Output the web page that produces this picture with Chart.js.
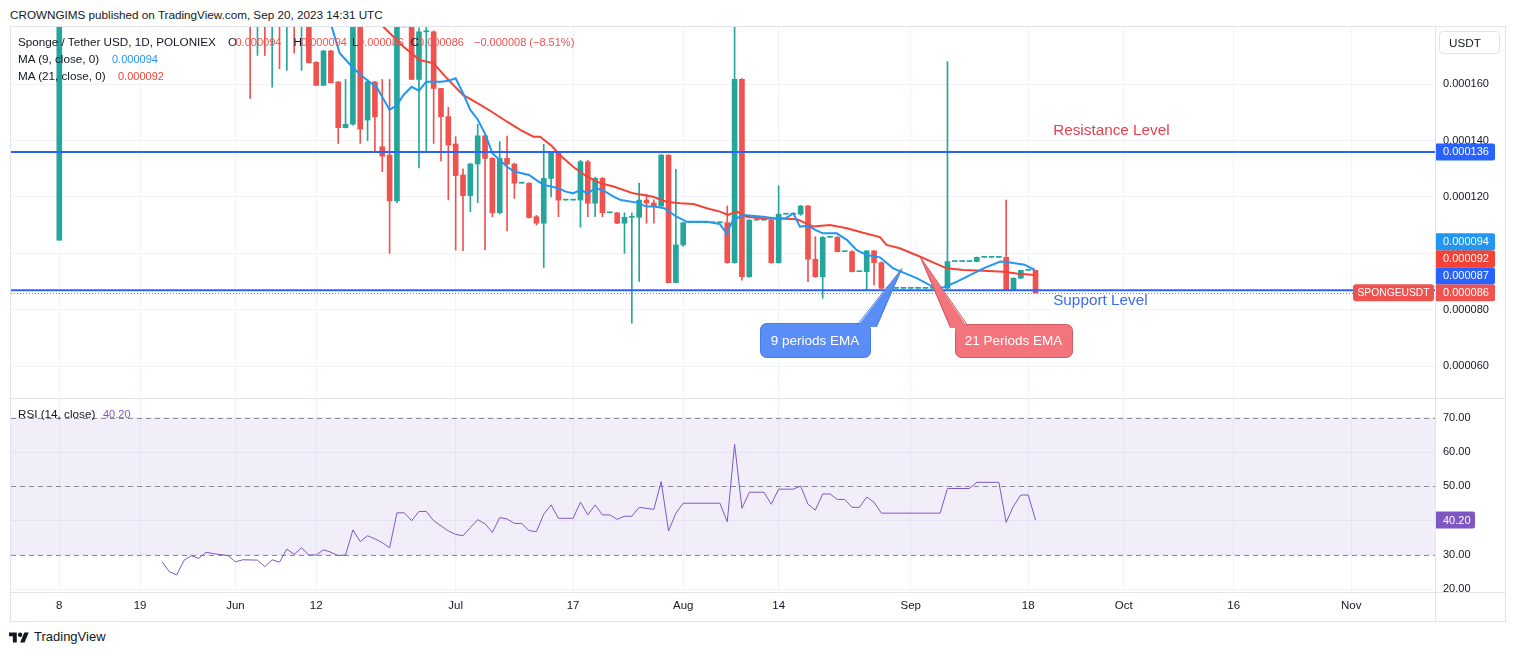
<!DOCTYPE html>
<html>
<head>
<meta charset="utf-8">
<title>Sponge / Tether USD, 1D, POLONIEX</title>
<script src="https://cdn.jsdelivr.net/npm/chart.js@4.4.1/dist/chart.umd.min.js"></script>
<style>
  html,body{margin:0;padding:0;background:#fff;}
  body{width:1515px;height:655px;position:relative;overflow:hidden;font-family:"Liberation Sans",Arial,sans-serif;color:#131722;}
  .t{position:absolute;white-space:nowrap;line-height:14px;font-size:11.7px;}
  .v{font-size:11px;}
  .ln{position:absolute;background:#e0e3eb;}
  canvas{position:absolute;}
  .red{color:#ef5350;}
</style>
</head>
<body>
<div class="t" style="left:10px;top:8px;">CROWNGIMS published on TradingView.com, Sep 20, 2023 14:31 UTC</div>
<div style="position:absolute;left:10px;top:26px;width:1496px;height:596px;border:1px solid #e0e3eb;box-sizing:border-box;"></div>
<canvas id="cPrice" width="1494" height="371" style="left:11px;top:27px;width:1494px;height:371px;"></canvas>
<canvas id="cRsi" width="1494" height="222" style="left:11px;top:399px;width:1494px;height:222px;"></canvas>
<div class="ln" style="left:11px;top:398px;width:1494px;height:1px;"></div>
<div class="ln" style="left:11px;top:592px;width:1494px;height:1px;"></div>
<div class="ln" style="left:1435px;top:27px;width:1px;height:594px;"></div>

<!-- legend -->
<div class="t" style="left:18px;top:35px;">Sponge / Tether USD, 1D, POLONIEX</div>
<div class="t" style="left:228px;top:35px;">O</div><div class="t v red" id="lgO" style="left:235.5px;top:35px;"></div>
<div class="t" style="left:293.5px;top:35px;">H</div><div class="t v red" id="lgH" style="left:301px;top:35px;"></div>
<div class="t" style="left:352px;top:35px;">L</div><div class="t v red" id="lgL" style="left:358px;top:35px;"></div>
<div class="t" style="left:410.5px;top:35px;">C</div><div class="t v red" id="lgC" style="left:418px;top:35px;"></div>
<div class="t v red" id="lgChg" style="left:474px;top:35px;"></div>
<div class="t" style="left:18px;top:52px;">MA (9, close, 0)</div><div class="t v" id="lgMa9" style="left:112px;top:52px;color:#2196f3;"></div>
<div class="t" style="left:18px;top:69px;">MA (21, close, 0)</div><div class="t v" id="lgMa21" style="left:118px;top:69px;color:#f44336;"></div>
<div class="t" style="left:18px;top:407px;">RSI (14, close)</div><div class="t v" id="lgRsi" style="left:103px;top:407px;color:#7e57c2;"></div>

<div style="position:absolute;left:1439px;top:31px;width:61px;height:23px;border:1px solid #e0e3eb;border-radius:4px;box-sizing:border-box;font-size:11.7px;line-height:21px;padding-left:9px;">USDT</div>

<svg style="position:absolute;left:9px;top:630px;" width="20" height="16" viewBox="0 0 36 28"><path d="M14 22H7V11H0V4h14v18zM28 22h-8l7.5-18h8L28 22z" fill="#131722"/><circle cx="20" cy="8" r="4" fill="#131722"/></svg>
<div class="t" style="left:34px;top:630px;font-size:13px;">TradingView</div>

<script>
// ---------- data (prices in micro-USDT, i.e. x 0.000001) ----------
const UNIT = 1e-6;
// bar index: 0 = May 8, one bar per trading day
const candleIndex = [0,26,27,28,29,30,31,32,33,34,35,36,37,38,39,40,41,42,43,44,45,46,47,48,49,50,51,52,53,54,55,56,57,58,59,60,61,62,63,64,65,66,67,68,69,70,71,72,73,74,75,76,77,78,79,80,81,82,83,84,85,86,87,88,89,90,91,92,93,94,95,96,97,98,99,100,101,102,103,104,105,106,107,108,109,110,111,112,113,114,115,116,117,118,119,120,121,122,123,124,125,126,127,128,129,130,131,132,133];
const openP = [104.7,
  200,190,195,188,192,186,190,184,
  188,167.8,159.6,171.8,160.8,144.6,145.8,190,147.3,160.8,
  137.8,134.9,118.6,190,190,161.7,178.6,178.6,158.5,148.5,
  138.8,127.8,120.5,131.7,141.7,133.7,114.4,133.7,131.7,124.9,
  124.9,113,110.7,126.6,135.7,118.9,118.9,118.9,132.5,117.8,
  126.6,114.4,114.4,110.7,112.8,112.8,118.9,117.9,116.8,134.9,
  89.6,103,110.9,110.9,110.9,110.9,110.9,110.9,96.7,161.7,
  91.7,111.8,111.8,111.8,96.7,113.9,113.9,113.9,116.8,97.9,
  91.7,105.7,105.7,100.6,100.6,93.5,93.5,100.9,96.7,87.6,
  87.6,87.6,87.6,87.6,87.6,87.6,87.6,87.6,97.1,97.1,
  97.1,97.1,98.6,98.6,98.6,98.6,87,91.2,94,94];
const highP = [200,
  205,200,198,196,195,194,193,192,
  190,168,172,172,161,161.7,195,192,161.7,161,
  161.7,161.7,195,190,192,180,182,179,158.5,151.8,
  141.4,130,132,145.8,142,134,139.6,141.6,132,124.9,
  125,113.5,138.7,136,136,118.9,118.9,133,133,127,
  127,114.4,114.5,114.4,114.4,124.9,121,119,135,135,
  129.8,111,110.9,110.9,110.9,110.9,110.9,116.8,195,162,
  112,111.8,111.8,112,124,113.9,113.9,117,117,105.9,
  106,105.7,106,100.6,101,93.5,101,101,97,87.6,
  87.6,87.6,87.6,87.6,87.6,87.6,87.6,168,97.1,97.1,
  97.1,98.7,98.6,98.6,98.6,118.9,91.3,94,94,94];
const lowP = [104.7,
  155,170.2,170.2,159,165.5,164.9,171,164.9,
  167.6,159.6,159.5,160.5,139,144.5,145.5,139,140,136.1,
  129,100,118,190,161.7,130.3,135.7,139,132.8,119,
  101.2,101,114.8,118,101.2,113,114,108,119.5,124.9,
  112.5,110,95,120,113,118.9,118.9,109.3,113,113,
  113,114.4,110.5,100,75.2,90,110.7,110.7,116.5,89.5,
  89.5,102.5,110.9,110.9,110.9,110.9,110.9,96.5,96.5,90.5,
  91.5,111.8,111.8,96.5,96.5,113.9,113.9,113.5,90,91.5,
  84.1,105.7,100.5,100.6,93.4,93.5,87,88.8,87.5,87.6,
  87.6,87.6,87.6,87.6,87.6,87.6,87.6,87.5,97.1,97.1,
  97.1,97,98.6,98.6,98.6,86.9,86.9,91,94,86];
const closeP = [195,
  190,195,188,192,186,190,184,188,
  167.6,159.6,171.8,160.5,144.6,145.8,190,144.1,160.8,148.4,
  134.5,118.6,190,190,161.7,178.6,178.6,158.5,148.5,138.4,
  127.6,120.5,131.7,141.7,133.7,114.4,133.7,131.7,124.9,124.9,
  112.7,110.7,126.6,135.7,118.9,118.9,118.9,132.5,117.8,126.6,
  114.4,114.4,110.7,112.8,112.8,118.9,117.8,116.7,134.9,89.6,
  103,110.9,110.9,110.9,110.9,110.9,110.9,96.7,161.7,91.7,
  111.8,111.8,111.8,96.7,113.9,113.9,113.9,116.8,97.9,91.7,
  105.7,105.7,100.6,100.6,93.5,93.5,100.9,96.7,87.6,87.6,
  87.6,87.6,87.6,87.6,87.6,87.6,87.6,97.1,97.1,97.1,
  97.1,98.6,98.6,98.6,98.6,87,91.2,94,94,86];

// Moving average (9)
const ma9Index = [37.1,38.2,40.1,41.9,43.2,45,46,46.9,48,49,50,52,53,54,55,56,57,58,59,60,61,62,63,64,65,66,67,68,69,70,71,72,73,74,75.5,76.5,78.7,80,81.1,82.4,84.1,85.5,88.2,90,90.9,91.8,93.2,95.9,98,99,100,100.9,102,103,104,105.9,107.3,108.6,110,111.8,113.6,116.8,119.3,120.5,122.3,125.9,128.2,129.5,131.5,132.9];
const ma9Value = [180.5,171,165.6,161.5,159.1,150.9,152.6,156.2,159.1,157.7,160.9,160.9,161.2,162.1,156.8,150.9,147.5,142.5,135.5,133.1,130.7,129,128.4,127.8,126,124.3,123.7,123.1,121.9,121.3,122.5,121.3,123.1,122.5,120.1,118.9,118,116.6,116.6,116,113,111.2,111.2,110.4,107.1,111.8,113.6,113,112.2,112.5,114.2,109.5,109.8,108.3,107.1,107.1,104.8,101.2,99.4,98.6,94.7,91.2,87.8,88,90,94.7,97.1,96.8,96,94.1];
// Moving average (21)
const ma21Index = [44.1,46.9,49.1,51,52.8,55,56.9,58.7,61,62.8,64.6,65.5,67.1,68.2,70,71.9,73.7,75.5,78.2,80.9,82.7,84.6,86.4,88.2,90,91.1,92.3,93.6,95.9,98.2,100.5,102.7,105,107.3,109.5,111.8,112.7,114.5,117.3,118.8,120.9,123.2,125.9,128.6,130.4,132.9];
const ma21Value = [180.5,173.3,168.6,167.4,162.1,156.2,153.4,150.6,146.7,143.8,141.4,141.4,138.1,134.9,130.7,127.2,124.9,123.7,121.3,120.1,118.3,117.8,117.5,116,114.8,113.6,114.8,113,112.4,112.4,112.1,109.5,110.1,108.9,107.3,105.8,103,101.8,98.8,97.1,94.7,94.1,93.8,93.5,92.9,92.3];

// RSI (14, close)
const rsiIndex = [14,15,16,17,18,19,20,21,23,24,25,27,28,29,30,31,32,33,34,35,36,37,38,39,40,41,42,43,44,45,46,47,48,49,50,51,52,53,54,55,56,57,58,59,60,61,62,63,64,65,66,67,68,69,70,71,72,73,74,75,76,77,78,79,80,81,82,83,84,85,90,91,92,93,94,96,97,98,100,101,102,103,104,105,106,107,108,109,110,111,112,120,121,124,125,128,129,130,131,132,133];
const rsiValue = [28.0,25.1,24.2,28.5,29.8,29.0,30.8,30.4,29.8,28.0,28.6,
  28.5,26.6,28.6,27.9,31.7,30.2,32.1,30.0,30.0,31.5,
  30.8,29.8,30.0,37.3,33.9,35.6,34.7,33.6,32.1,42.3,
  42.3,40.0,42.7,42.7,40.0,38.5,37.0,36.0,35.6,38.0,
  40.3,39.1,36.6,40.9,40.5,39.2,39.2,37.1,36.8,41.9,
  44.6,40.7,40.7,40.7,45.4,41.7,44.6,41.7,41.7,40.4,
  41.3,41.3,43.9,43.6,43.3,51.4,37.0,42.2,45.1,
  45.1,39.7,62.3,43.6,48.3,
  48.3,44.8,49.2,
  49.2,50.1,44.8,43.1,47.8,47.8,46.2,46.2,43.9,43.9,46.9,45.4,42.2,
  42.2,49.4,49.4,51.2,
  51.2,39.5,44.3,47.5,47.5,40.2];

// time axis
const timeTickIndex = [0,11,24,35,54,70,85,98,116,132,145,160,176];
const timeTickLabel = ['8','19','Jun','12','Jul','17','Aug','14','Sep','18','Oct','16','Nov'];
const priceTicks = [60,80,100,120,140,160];
const rsiTicks = [20,30,40,50,60,70];
const rsiLevels = [70,50,30];

// drawn levels
const levelNames = ['Resistance Level','Support Level'];
const levelValues = [136,86.9];
const levelTextAt = 135.4;
const callouts = [
  {text:'9 periods EMA', at:[114.8,94.6]},
  {text:'21 Periods EMA', at:[117.3,98.7]}
];
const symbolName = 'SPONGEUSDT';

// ---------- styles ----------
const FONT = '"Liberation Sans", Arial, sans-serif';
const UP = '#26a69a', DOWN = '#ef5350', GRID = '#f0f3fa', LEVEL = '#2962ff';
const X_MIN = -6.58, X_MAX = 187.42;
Chart.defaults.font.family = FONT;

const n = candleIndex.length;
const last = n - 1;
const candleColors = candleIndex.map((_, i) => closeP[i] >= openP[i] ? UP : DOWN);
const fmt = v => (v * UNIT).toFixed(6);

// legend texts
document.getElementById('lgO').textContent = fmt(openP[last]);
document.getElementById('lgH').textContent = fmt(highP[last]);
document.getElementById('lgL').textContent = fmt(lowP[last]);
document.getElementById('lgC').textContent = fmt(closeP[last]);
const chg = closeP[last] - closeP[last - 1];
document.getElementById('lgChg').textContent = '\u2212' + fmt(Math.abs(chg)) + ' (\u2212' + Math.abs(chg / closeP[last - 1] * 100).toFixed(2) + '%)';
document.getElementById('lgMa9').textContent = fmt(ma9Value[ma9Value.length - 1]);
document.getElementById('lgMa21').textContent = fmt(ma21Value[ma21Value.length - 1]);
document.getElementById('lgRsi').textContent = rsiValue[rsiValue.length - 1].toFixed(2);

function noPad(s) { s.paddingTop = 0; s.paddingBottom = 0; s.paddingLeft = 0; s.paddingRight = 0; }

function xScale(showLabels) {
  return {
    type: 'linear', min: X_MIN, max: X_MAX, offset: false,
    grid: {color: GRID, drawTicks: false, offset: false},
    border: {display: false},
    ticks: showLabels ? {
      color: '#131722', font: {size: 11.5, family: FONT}, padding: 7, maxRotation: 0, autoSkip: false,
      callback: v => { const k = timeTickIndex.indexOf(v); return k < 0 ? '' : timeTickLabel[k]; }
    } : {display: false},
    afterBuildTicks: s => { s.ticks = timeTickIndex.map(v => ({value: v})); },
    afterFit: s => { s.height = showLabels ? 29 : 0; noPad(s); }
  };
}

function tag(ctx, x, yc, w, h, bg, text, r) {
  ctx.fillStyle = bg;
  ctx.beginPath(); ctx.roundRect(x, yc - h / 2, w, h, r); ctx.fill();
  ctx.fillStyle = '#fff';
  ctx.font = '11px ' + FONT;
  ctx.textBaseline = 'middle'; ctx.textAlign = 'left';
  ctx.fillText(text, x + 8, yc + 0.5);
}

const calloutStyle = [
  {box:[749,296,110,34], base:[[846,298],[866,298]], fill:'#5b8df6', border:'#4a7ae6'},
  {box:[944,297,117,33], base:[[939,299],[957,299]], fill:'#f3747c', border:'#c95c62'}
];

const priceOverlay = {
  id: 'priceOverlay',
  afterDatasetsDraw(chart) {
    const {ctx, chartArea: a, scales: {x, y}} = chart;
    ctx.save();
    ctx.beginPath(); ctx.rect(a.left, a.top, a.right - a.left, a.bottom - a.top); ctx.clip();
    // last price dotted line
    const yl = Math.round(y.getPixelForValue(closeP[last])) + 0.5;
    ctx.strokeStyle = DOWN; ctx.lineWidth = 1; ctx.setLineDash([1, 2]);
    ctx.beginPath(); ctx.moveTo(a.left, yl); ctx.lineTo(a.right, yl); ctx.stroke();
    ctx.setLineDash([]);
    // horizontal levels
    const textOffset = [-21, 10.5];
    const textColor = ['#e5404f', '#3b6de6'];
    levelValues.forEach((v, i) => {
      const yy = y.getPixelForValue(v);
      ctx.strokeStyle = LEVEL; ctx.lineWidth = 2;
      ctx.beginPath(); ctx.moveTo(a.left, yy); ctx.lineTo(a.right, yy); ctx.stroke();
      ctx.fillStyle = textColor[i];
      ctx.font = '15.3px ' + FONT; ctx.textBaseline = 'middle'; ctx.textAlign = 'left';
      ctx.fillText(levelNames[i], x.getPixelForValue(levelTextAt), yy + textOffset[i]);
    });
    // callouts
    callouts.forEach((c, i) => {
      const st = calloutStyle[i];
      const tx = x.getPixelForValue(c.at[0]), ty = y.getPixelForValue(c.at[1]);
      const [bx, by, bw, bh] = st.box;
      ctx.fillStyle = st.fill; ctx.strokeStyle = st.border; ctx.lineWidth = 1;
      ctx.beginPath(); ctx.roundRect(bx + 0.5, by + 0.5, bw, bh, 6); ctx.fill(); ctx.stroke();
      const [b1, b2] = st.base;
      ctx.beginPath(); ctx.moveTo(b1[0], b1[1] + 2); ctx.lineTo(tx, ty); ctx.lineTo(b2[0], b2[1] + 2); ctx.closePath(); ctx.fill();
      ctx.beginPath(); ctx.moveTo(b1[0], b1[1]); ctx.lineTo(tx, ty); ctx.lineTo(b2[0], b2[1]); ctx.stroke();
      ctx.fillStyle = '#fff'; ctx.font = '13.5px ' + FONT; ctx.textAlign = 'center'; ctx.textBaseline = 'middle';
      ctx.fillText(c.text, bx + bw / 2, by + bh / 2 + 1);
    });
    ctx.restore();
  },
  afterDraw(chart) {
    const {ctx, chartArea: a, scales: {y}} = chart;
    ctx.save();
    const H = 17, W = 60;
    tag(ctx, a.right, y.getPixelForValue(levelValues[0]), W, H, LEVEL, fmt(levelValues[0]), 2);
    const list = [
      {v: closeP[last], bg: DOWN, sym: true},
      {v: levelValues[1], bg: LEVEL},
      {v: ma21Value[ma21Value.length - 1], bg: '#f44336'},
      {v: ma9Value[ma9Value.length - 1], bg: '#2196f3'}
    ].sort((p, q) => p.v - q.v);
    let prev = Infinity;
    list.forEach(t => {
      const yy = Math.min(y.getPixelForValue(t.v), prev - H);
      tag(ctx, a.right, yy, W, H, t.bg, fmt(t.v), 2);
      if (t.sym) {
        ctx.font = '10.3px ' + FONT;
        const w = 81;
        ctx.fillStyle = t.bg;
        ctx.beginPath(); ctx.roundRect(a.right - 1 - w, yy - H / 2, w, H, 3); ctx.fill();
        ctx.fillStyle = '#fff'; ctx.textAlign = 'center'; ctx.textBaseline = 'middle';
        ctx.fillText(symbolName, a.right - 1 - w / 2, yy + 0.5);
      }
      prev = yy;
    });
    ctx.restore();
  }
};

const rsiOverlay = {
  id: 'rsiOverlay',
  beforeDatasetsDraw(chart) {
    const {ctx, chartArea: a, scales: {y}} = chart;
    ctx.save();
    const y70 = y.getPixelForValue(70), y30 = y.getPixelForValue(30);
    ctx.fillStyle = 'rgba(126,87,194,0.1)';
    ctx.fillRect(a.left, y70, a.right - a.left, y30 - y70);
    ctx.strokeStyle = '#8a8d96'; ctx.lineWidth = 1; ctx.setLineDash([5, 4]);
    rsiLevels.forEach(v => {
      const yy = Math.round(y.getPixelForValue(v)) + 0.5;
      ctx.beginPath(); ctx.moveTo(a.left, yy); ctx.lineTo(a.right, yy); ctx.stroke();
    });
    ctx.restore();
  },
  afterDraw(chart) {
    const {ctx, chartArea: a, scales: {y}} = chart;
    ctx.save();
    ctx.fillStyle = '#fff';
    ctx.fillRect(a.right + 1, a.bottom + 1, chart.width - a.right - 1, 14);
    const v = rsiValue[rsiValue.length - 1];
    tag(ctx, a.right, y.getPixelForValue(v), 40, 17, '#7e57c2', v.toFixed(2), 2);
    ctx.restore();
  }
};

const common = {
  responsive: false, maintainAspectRatio: false, animation: false,
  layout: {padding: 0, autoPadding: false},
  plugins: {legend: {display: false}, tooltip: {enabled: false}},
  events: []
};

new Chart(document.getElementById('cPrice'), {
  type: 'bar',
  data: {
    datasets: [
      {type: 'line', data: ma9Index.map((x, i) => ({x, y: ma9Value[i]})), borderColor: '#2196f3', borderWidth: 2, pointRadius: 0, tension: 0, order: 0},
      {type: 'line', data: ma21Index.map((x, i) => ({x, y: ma21Value[i]})), borderColor: '#f44336', borderWidth: 2, pointRadius: 0, tension: 0, order: 0},
      {data: candleIndex.map((x, i) => ({x, y: [openP[i], closeP[i]]})), backgroundColor: candleColors, barThickness: 5, minBarLength: 1, grouped: false, order: 1},
      {data: candleIndex.map((x, i) => ({x, y: [lowP[i], highP[i]]})), backgroundColor: candleColors, barThickness: 1, grouped: false, order: 2}
    ]
  },
  options: Object.assign({}, common, {
    scales: {
      x: xScale(false),
      y: {
        position: 'right', min: 48.7, max: 180.3,
        grid: {color: GRID, drawTicks: false}, border: {display: false},
        ticks: {color: '#131722', font: {size: 11, family: FONT}, padding: 8, autoSkip: false, callback: v => fmt(v)},
        afterBuildTicks: s => { s.ticks = priceTicks.map(v => ({value: v})); },
        afterFit: s => { s.width = 70; noPad(s); }
      }
    }
  }),
  plugins: [priceOverlay]
});

new Chart(document.getElementById('cRsi'), {
  type: 'line',
  data: {datasets: [{data: rsiIndex.map((x, i) => ({x, y: rsiValue[i]})), borderColor: '#7e57c2', borderWidth: 1, pointRadius: 0, tension: 0}]},
  options: Object.assign({}, common, {
    scales: {
      x: xScale(true),
      y: {
        position: 'right', min: 19.2, max: 75.5,
        grid: {color: GRID, drawTicks: false}, border: {display: false},
        ticks: {color: '#131722', font: {size: 11, family: FONT}, padding: 8, autoSkip: false, callback: v => v.toFixed(2)},
        afterBuildTicks: s => { s.ticks = rsiTicks.map(v => ({value: v})); },
        afterFit: s => { s.width = 70; noPad(s); }
      }
    }
  }),
  plugins: [rsiOverlay]
});
</script>
</body>
</html>
